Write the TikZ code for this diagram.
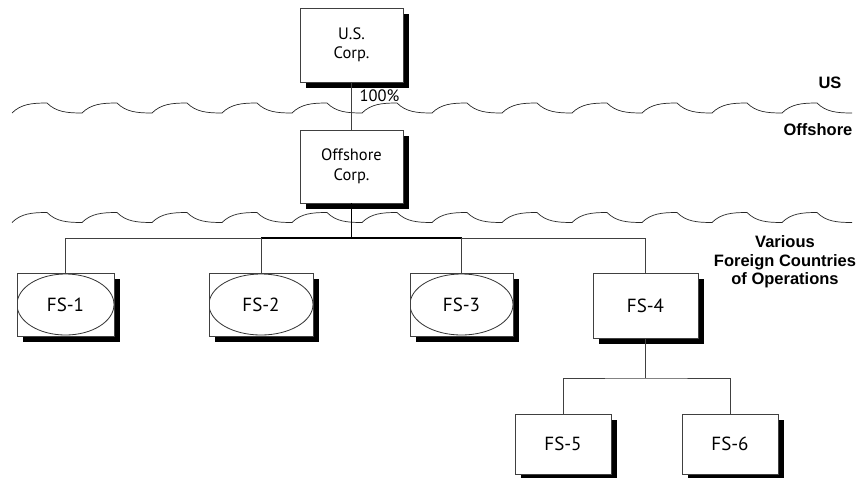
\documentclass[tikz,border=0pt]{standalone}
\usepackage{fontspec}
\setmainfont{PT Sans}
\newfontfamily\regionfont{Liberation Sans}
\usetikzlibrary{shadows,calc}

\tikzset{
  line/.style={draw=black!75, line width=0.9pt},
  trunk/.style={draw=black, line width=1.6pt},
  entity/.style={draw=black!75, line width=0.9pt, fill=white, align=center,
    drop shadow={shadow xshift=5.5pt, shadow yshift=-5.5pt, fill=black, opacity=1}},
  corp/.style={entity, minimum width=103pt, minimum height=74pt,
    font=\fontsize{16.5}{19.5}\selectfont},
  sub/.style={entity, minimum width=104pt, minimum height=64pt,
    font=\fontsize{19}{22}\selectfont},
  ovalsub/.style={sub, path picture={
      \draw[black!80, line width=0.8pt]
        let \p1=(path picture bounding box.north east),
            \p2=(path picture bounding box.center) in
        (\p2) ellipse [x radius={\x1-\x2}, y radius={\y1-\y2-1pt}];}},
  region/.style={font=\regionfont\bfseries\fontsize{16.5}{18.5}\selectfont, align=center},
  wave/.style={draw=black!85, line width=0.7pt}
}

\begin{document}
\begin{tikzpicture}[x=1pt,y=-1pt]
    \useasboundingbox (0,0) rectangle (857,477);

    % border lines between jurisdictions
    \foreach \ym in {108,217.5} {
        \foreach \i in {0,...,11} {
            \pgfmathsetmacro{\xa}{12+70*\i}
            \draw[wave] (\xa,\ym+5) .. controls (\xa+9,\ym-4) and (\xa+20,\ym-5) .. (\xa+35,\ym-5)
                .. controls (\xa+44,\ym+4) and (\xa+55,\ym+5) .. (\xa+70,\ym+5);
        }
    }

    \node[corp] (us) at (351.5,45) {U.S.\\Corp.};
    \node[corp, minimum height=73pt] (off) at (351.5,166.5) {Offshore\\Corp.};

    \node[ovalsub, minimum width=97pt, minimum height=63pt] (fs1) at (65.5,304.5) {FS-1};
    \node[ovalsub, minimum height=63pt] (fs2) at (261,304.5) {FS-2};
    \node[ovalsub, minimum width=103pt, minimum height=63pt] (fs3) at (461.5,304.5) {FS-3};
    \node[sub, minimum width=105pt, minimum height=65pt] (fs4) at (645.5,305.5) {FS-4};
    \node[sub, minimum width=96pt, minimum height=60pt] (fs5) at (563,444) {FS-5};
    \node[sub, minimum width=96pt, minimum height=60pt] (fs6) at (730,444) {FS-6};

    \coordinate (bus) at (351.5,238);
    \coordinate (bus4) at (645.5,378);

    \draw[line] (us) -- (off);
    \node[anchor=west, font=\fontsize{16.5}{19}\selectfont] (pct) at (356,96) {100\%};

    \draw[trunk] (off) -- (bus);
    \draw[trunk] (fs2 |- bus) -- (fs3 |- bus);
    \draw[line] (fs1) |- (bus -| fs2);
    \draw[line] (fs2 |- bus) -- (fs2);
    \draw[line] (fs3 |- bus) -| (fs4);
    \draw[line] (fs3 |- bus) -- (fs3);

    \draw[line] (fs4) -- (bus4);
    \draw[line] (fs5) |- (bus4) -| (fs6);

    \node[region] (lus) at (830,83) {US};
    \node[region] (loff) at (818,130) {Offshore};
    \node[region] (lfor) at (785,262) {Various\\Foreign Countries\\of Operations};
\end{tikzpicture}
\end{document}
